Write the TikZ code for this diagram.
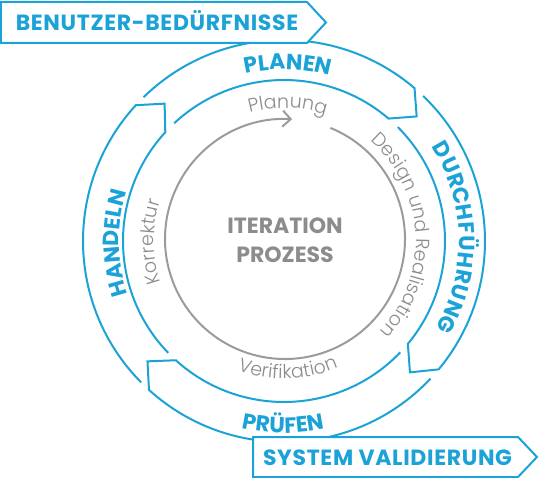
\documentclass[tikz,border=0pt]{standalone}
\usepackage{fontspec}
\setmainfont{Poppins}
\newfontfamily\lightfont{Poppins Light}
\usetikzlibrary{arrows.meta,decorations.text}
\definecolor{ringblue}{RGB}{27,162,215}
\definecolor{ringgray}{RGB}{155,155,155}
\definecolor{txtgray}{RGB}{140,140,140}
\newcommand\bluefmt{\fontsize{22}{22}\selectfont\bfseries}
\newcommand\boxfmt{\fontsize{22}{22}\selectfont\bfseries\addfontfeature{LetterSpace=3}}
\newcommand\grayfmt{\fontsize{19}{19}\selectfont\lightfont}
\tikzset{
  ring/.style={draw=ringblue, line width=2pt, line join=miter},
  graycirc/.style={draw=ringgray, line width=2pt},
  bluetxt/.style={text=ringblue, font=\boxfmt, inner sep=0pt},
  blueletter/.style={text=ringblue, font=\bluefmt, inner sep=0pt, anchor=base},
  centertxt/.style={text=txtgray, font=\bluefmt, inner sep=0pt},
  bluearc/.style={decorate, decoration={text along path, text align=center, text color=ringblue, text={|\bluefmt|#1}}},
  grayarc/.style={decorate, decoration={text along path, text align=center, text color=txtgray, text={|\grayfmt|#1}}}
}
\begin{document}
\begin{tikzpicture}[x=1pt,y=1pt]
\useasboundingbox (-284,-237) rectangle (256,241);
% ring segments (outer arc, tip, inner arc)
\draw[ring] (134.3:201) arc[start angle=134.3, end angle=49.5, radius=201] -- (43.2:182) -- (49.5:161) arc[start angle=49.5, end angle=133, radius=161];
\draw[ring] (46.2:201) arc[start angle=46.2, end angle=-39.7, radius=201] -- (-46.2:182) -- (-39.7:161) arc[start angle=-39.7, end angle=45, radius=161];
\draw[ring] (-43.2:201) arc[start angle=-43.2, end angle=-132.2, radius=201] -- (-138.6:182) -- (-132.2:161) arc[start angle=-132.2, end angle=-43.8, radius=161];
\draw[ring] (-135.3:201) arc[start angle=-135.3, end angle=-222.5, radius=201] -- (-229:182) -- (-222.5:161) arc[start angle=-222.5, end angle=-136, radius=161];
% gray circle with arrow
\draw[graycirc, -{Straight Barb[length=8pt,width=16pt]}, shift={(1,2)}] (67.8:120) arc[start angle=67.8, end angle=-273.4, radius=120];
% boxes
\draw[ring, fill=white] (-283,239) -- (23,239) -- (42,218.5) -- (23,198) -- (-283,198) -- cycle;
\node[bluetxt, anchor=base] (benutzer) at (-127,210) {BENUTZER-BEDÜRFNISSE};
\draw[ring, fill=white] (-31,-196) -- (234,-196) -- (253,-216) -- (234,-236) -- (-31,-236) -- cycle;
\node[bluetxt, anchor=base] (system) at (103.5,-224) {SYSTEM VALIDIERUNG};
% center text
\node[centertxt, anchor=base] (iter) at (1,7) {ITERATION};
\node[centertxt, anchor=base] (proz) at (1,-22) {PROZESS};
% blue ring labels
\path[bluearc={PLANEN}] (148.7:171.5) arc[start angle=148.7, end angle=28.7, radius=171.5];
\foreach \ch/\ang [count=\i] in {D/29.85, U/24.47, R/19.39, C/14.32, H/8.90, F/4.08, {\"U}/-0.65, H/-6.07, R/-11.23, U/-16.30, N/-21.75, G/-27.34}
  \node[blueletter, rotate=\ang-90] (durch\i) at (\ang:175) {\ch};
\path[bluearc={PR{\"U}FEN}] (-150.3:192) arc[start angle=-150.3, end angle=-30.3, radius=192];
\path[bluearc={HANDELN}] (240.7:165) arc[start angle=240.7, end angle=120.7, radius=165];
% gray labels
\path[grayarc={Planung}] (148.4:133) arc[start angle=148.4, end angle=28.4, radius=133];
\path[grayarc={Design und Realisation}] (73:132) arc[start angle=73, end angle=-67, radius=132];
\path[grayarc={Verifikation}] (-148.3:137.5) arc[start angle=-148.3, end angle=-28.3, radius=137.5];
\path[grayarc={Korrektur}] (240.4:130) arc[start angle=240.4, end angle=120.4, radius=130];
\end{tikzpicture}
\end{document}
